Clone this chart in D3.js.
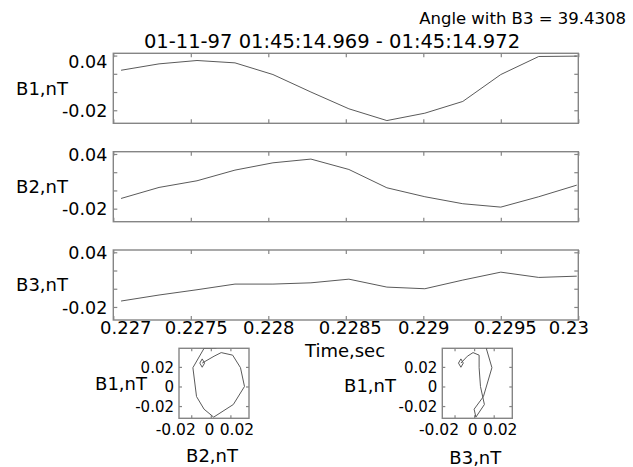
<!DOCTYPE html>
<html>
<head>
<meta charset="utf-8">
<script src="https://cdn.jsdelivr.net/npm/d3@7"></script>
<style>
  body { margin: 0; background: #fff; }
  text { font-family: "DejaVu Sans", sans-serif; fill: #000; }
</style>
</head>
<body>
<svg id="chart" width="633" height="467"></svg>
<script>
// Magnetic field components, nT, sampled over a 3 ms burst
const timeSec = [0.22705, 0.227295, 0.22754, 0.227785, 0.22803, 0.228275, 0.22852,
                 0.228765, 0.22901, 0.229255, 0.2295, 0.229745, 0.22999];
const b1 = [0.0239, 0.0309, 0.0346, 0.0320, 0.0192, 0.0000, -0.0184,
            -0.0313, -0.0232, -0.0103, 0.0192, 0.0390, 0.0394];
const b2 = [-0.0088, 0.0033, 0.0106, 0.0223, 0.0303, 0.0344, 0.0230,
            0.0029, -0.0069, -0.0146, -0.0183, -0.0069, 0.0058];
const b3 = [-0.0135, -0.0069, -0.0011, 0.0051, 0.0051, 0.0065, 0.0105,
            0.0018, 0.0000, 0.0095, 0.0182, 0.0124, 0.0138];

const componentNames = ["B1,nT", "B2,nT", "B3,nT"];
const timeTicks = [0.227, 0.2275, 0.228, 0.2285, 0.229, 0.2295, 0.23];
const timeTickLabels = ["0.227", "0.2275", "0.228", "0.2285", "0.229", "0.2295", "0.23"];
const fieldTicks = [-0.02, 0, 0.02, 0.04];
const fieldTickLabels = ["-0.02", "", "", "0.04"];
const hodoTicks = [-0.02, 0, 0.02];
const hodoTickLabels = ["-0.02", "0", "0.02"];
const titleText = "01-11-97 01:45:14.969 - 01:45:14.972";
const angleText = "Angle with B3 = 39.4308";
const timeLabel = "Time,sec";

const svg = d3.select("#chart");
const frameColor = "#858585";
const lineColor = "#5a5a5a";

// ---- layout ----
const panelX0 = 113.3, panelX1 = 578.3, panelH = 70;
const panelTops = [53.3, 151.7, 250];
const fieldDomain = [-0.0343, 0.0425];
const hodoDomain = [-0.0325, 0.039];
const hodoSize = 70, hodoTop = 348.3;
const hodoLefts = [179, 442.3];

const x = d3.scaleLinear().domain([0.227, 0.23]).range([panelX0, panelX1]);

svg.append("text").attr("x", 626).attr("y", 24).attr("text-anchor", "end")
  .style("font-size", "16.5px").text(angleText);
svg.append("text").attr("x", 332).attr("y", 47.5).attr("text-anchor", "middle")
  .style("font-size", "19.5px").text(titleText);

function styleAxis(g) {
  g.select(".domain").remove();
  g.selectAll(".tick line").attr("stroke", frameColor).attr("stroke-width", 1.2);
  g.selectAll("text").style("font-family", "DejaVu Sans, sans-serif").attr("fill", "#000");
}

const series = [b1, b2, b3];
series.forEach((vals, i) => {
  const top = panelTops[i];
  const y = d3.scaleLinear().domain(fieldDomain).range([top + panelH, top]);
  const g = svg.append("g");

  const clipId = "clip-panel-" + i;
  svg.append("clipPath").attr("id", clipId).append("rect")
    .attr("x", panelX0).attr("y", top).attr("width", panelX1 - panelX0).attr("height", panelH);

  // inward ticks on all four sides
  g.append("g").attr("transform", `translate(${panelX0},0)`)
    .call(d3.axisLeft(y).tickValues(fieldTicks).tickSize(-4).tickPadding(6)
      .tickFormat((d, k) => fieldTickLabels[k]))
    .call(styleAxis)
    .call(a => a.selectAll("text").style("font-size", "17.5px")
      .attr("dy", (d) => (i === 0 && d === 0.04) ? "0.66em" : "0.36em"));
  g.append("g").attr("transform", `translate(${panelX1},0)`)
    .call(d3.axisRight(y).tickValues(fieldTicks).tickSize(-4).tickFormat(""))
    .call(styleAxis);
  g.append("g").attr("transform", `translate(0,${top})`)
    .call(d3.axisTop(x).tickValues(timeTicks).tickSize(-4).tickFormat(""))
    .call(styleAxis);
  const bottom = g.append("g").attr("transform", `translate(0,${top + panelH})`)
    .call(d3.axisBottom(x).tickValues(timeTicks).tickSize(-4).tickPadding(2)
      .tickFormat((d, k) => i === 2 ? timeTickLabels[k] : ""))
    .call(styleAxis);
  if (i === 2) {
    const shift = [12, 5, 0, 4, 0, 4, -10];
    bottom.selectAll("text").style("font-size", "18px")
      .attr("y", 8).attr("dy", "0.36em")
      .attr("dx", (d, k) => shift[k]);
  }

  g.append("rect").attr("x", panelX0).attr("y", top)
    .attr("width", panelX1 - panelX0).attr("height", panelH)
    .attr("fill", "none").attr("stroke", frameColor).attr("stroke-width", 1.4);

  g.append("path").datum(vals.map((v, k) => [timeSec[k], v]))
    .attr("clip-path", `url(#${clipId})`)
    .attr("fill", "none").attr("stroke", lineColor).attr("stroke-width", 1)
    .attr("d", d3.line().x(d => x(d[0])).y(d => y(d[1])));

  g.append("text").attr("x", 42).attr("y", top + panelH / 2).attr("dy", "0.36em")
    .attr("text-anchor", "middle").style("font-size", "18px").text(componentNames[i]);
});

svg.append("text").attr("x", 345).attr("y", 351).attr("dy", "0.36em")
  .attr("text-anchor", "middle").style("font-size", "18px").text(timeLabel);

// ---- hodograms: B2 vs B1 and B3 vs B1 ----
const hodoPairs = [
  { xs: b2, ys: b1, xName: "B2,nT", yName: "B1,nT", yLabelX: 121, yLabelY: 384, xLabelY: 456 },
  { xs: b3, ys: b1, xName: "B3,nT", yName: "B1,nT", yLabelX: 370, yLabelY: 386, xLabelY: 458 }
];
hodoPairs.forEach((p, i) => {
  const left = hodoLefts[i];
  const hx = d3.scaleLinear().domain(hodoDomain).range([left, left + hodoSize]);
  const hy = d3.scaleLinear().domain(hodoDomain).range([hodoTop + hodoSize, hodoTop]);
  const g = svg.append("g");
  const clipId = "clip-hodo-" + i;
  svg.append("clipPath").attr("id", clipId).append("rect")
    .attr("x", left).attr("y", hodoTop).attr("width", hodoSize).attr("height", hodoSize);

  g.append("g").attr("transform", `translate(${left},0)`)
    .call(d3.axisLeft(hy).tickValues(hodoTicks).tickSize(-3).tickPadding(5)
      .tickFormat((d, k) => hodoTickLabels[k]))
    .call(styleAxis)
    .call(a => a.selectAll("text").style("font-size", "15px").attr("dy", "0.36em"));
  g.append("g").attr("transform", `translate(${left + hodoSize},0)`)
    .call(d3.axisRight(hy).tickValues(hodoTicks).tickSize(-3).tickFormat(""))
    .call(styleAxis);
  g.append("g").attr("transform", `translate(0,${hodoTop})`)
    .call(d3.axisTop(hx).tickValues(hodoTicks).tickSize(-3).tickFormat(""))
    .call(styleAxis);
  const shift = [-16, -2, 6];
  g.append("g").attr("transform", `translate(0,${hodoTop + hodoSize})`)
    .call(d3.axisBottom(hx).tickValues(hodoTicks).tickSize(-3)
      .tickFormat((d, k) => hodoTickLabels[k]))
    .call(styleAxis)
    .call(a => a.selectAll("text").style("font-size", "15.5px")
      .attr("y", 11).attr("dy", "0.36em").attr("dx", (d, k) => shift[k]));

  g.append("rect").attr("x", left).attr("y", hodoTop)
    .attr("width", hodoSize).attr("height", hodoSize)
    .attr("fill", "none").attr("stroke", frameColor).attr("stroke-width", 1.4);

  const pts = p.xs.map((v, k) => [v, p.ys[k]]);
  g.append("path").datum(pts)
    .attr("clip-path", `url(#${clipId})`)
    .attr("fill", "none").attr("stroke", lineColor).attr("stroke-width", 1)
    .attr("d", d3.line().x(d => hx(d[0])).y(d => hy(d[1])));
  // start-of-interval marker
  g.append("path")
    .attr("transform", `translate(${hx(pts[0][0])},${hy(pts[0][1])})`)
    .attr("d", d3.symbol(d3.symbolDiamond, 20)())
    .attr("fill", "none").attr("stroke", lineColor).attr("stroke-width", 1);

  g.append("text").attr("x", p.yLabelX).attr("y", p.yLabelY).attr("dy", "0.36em")
    .attr("text-anchor", "middle").style("font-size", "18px").text(p.yName);
  g.append("text").attr("x", left + hodoSize / 2 - 2).attr("y", p.xLabelY).attr("dy", "0.36em")
    .attr("text-anchor", "middle").style("font-size", "18px").text(p.xName);
});
</script>
</body>
</html>
